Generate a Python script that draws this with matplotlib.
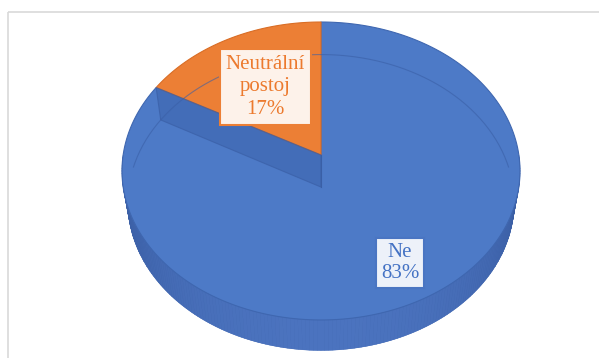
import numpy as np
import matplotlib
matplotlib.use("Agg")
import matplotlib.pyplot as plt
from matplotlib.patches import Polygon, Rectangle
from matplotlib.colors import to_rgb

# Data
categories = ["Neutrální postoj", "Ne"]
values = [17, 83]
pct_labels = ["17%", "83%"]

W, H = 599, 358
fig = plt.figure(figsize=(W / 100, H / 100), dpi=100)
ax = fig.add_axes([0, 0, 1, 1])
ax.set_xlim(0, W)
ax.set_ylim(H, 0)
ax.axis("off")

# Chart area frame
ax.add_patch(Rectangle((8, 12), 700, 400, fill=False, ec="#d9d9d9", lw=1.2))

# Simple pinhole camera looking down on a flat cylinder (radius 1)
elev = np.radians(48.1)
dist = 6.22
focal = 1230.7
depth = 0.25
cx, cy = 321, 155
se, ce = np.sin(elev), np.cos(elev)


def project(phi, r=1.0, z=0.0):
    X = r * np.cos(phi)
    Y = r * np.sin(phi)
    zc = dist + Y * ce - z * se
    yc = Y * se + z * ce
    return cx + focal * X / zc, cy - focal * yc / zc


def wedge(a0, a1, z=0.0, n=200):
    t = np.linspace(a0, a1, n)
    xs, ys = project(t, 1.0, z)
    x0, y0 = project(np.array([0.0]), 0.0, z)
    return np.column_stack([np.r_[x0, xs], np.r_[y0, ys]])


colors = ["#ec7f35", "#4d7ac7"]
edge_cols = ["#d96d25", "#3f67b0"]

# Slice angles: first slice starts at 12 o'clock going counter-clockwise
fr = np.array(values, float) / sum(values)
starts = np.pi / 2 + 2 * np.pi * np.r_[0, np.cumsum(fr)[:-1]]
ends = starts + 2 * np.pi * fr

# Bottom face
tb = np.linspace(0, 2 * np.pi, 400)
bx, by = project(tb, 1.0, -depth)
ax.add_patch(Polygon(np.column_stack([bx, by]), closed=True, fc="#3d61a8", ec="none"))

# Outer side, front half, shaded strips
dark = np.array(to_rgb("#385ba0"))
mid = np.array(to_rgb("#4b73bf"))
phis = np.linspace(np.pi, 2 * np.pi, 181)
for p0, p1 in zip(phis[:-1], phis[1:]):
    pm = 0.5 * (p0 + p1)
    k = max(0.0, -np.sin(pm)) ** 1.2
    col = dark + (mid - dark) * k
    tt = np.linspace(p0, p1, 4)
    xt, yt = project(tt, 1.0, 0.0)
    xb, yb = project(tt[::-1], 1.0, -depth)
    ax.add_patch(Polygon(np.column_stack([np.r_[xt, xb], np.r_[yt, yb]]),
                         closed=True, fc=col, ec=col, lw=0.3))

# Top faces of the slices (blue first, orange on top)
for i in [1, 0]:
    ax.add_patch(Polygon(wedge(starts[i], ends[i]), closed=True,
                         fc=colors[i], ec=edge_cols[i], lw=0.8))

# Radial wall of the large slice, seen through the top
a = ends[0]
ex0, ey0 = project(np.array([a]), 1.0, 0.0)
ex1, ey1 = project(np.array([a]), 1.0, -depth)
vx0, vy0 = project(np.array([0.0]), 0.0, 0.0)
vx1, vy1 = project(np.array([0.0]), 0.0, -depth)
wall = np.array([[vx0[0], vy0[0]], [ex0[0], ey0[0]], [ex1[0], ey1[0]], [vx1[0], vy1[0]]])
ax.add_patch(Polygon(wall, closed=True, fc="#4068b2", ec="#3a5fa6", lw=0.8, alpha=0.7))
ax.plot([vx0[0], vx1[0]], [vy0[0], vy1[0]], color="#3a5fa6", lw=0.8)

# Far rim of the bottom face, faintly visible through the top
tf = np.linspace(np.radians(8), np.radians(172), 200)
fx, fy = project(tf, 1.0, -depth)
ax.plot(fx, fy, color="#3a5fa6", lw=0.8, alpha=0.6)

# Data labels
serif = ["Liberation Serif", "DejaVu Serif"]
ax.text(265.5, 87, f"Neutrální\npostoj\n{pct_labels[0]}", ha="center", va="center",
        fontsize=15, family=serif, color="#ec7a2e", linespacing=1.25,
        bbox=dict(boxstyle="square,pad=0.3", fc="#fdf2ea", ec="#ec7f35", lw=1.5))
ax.text(400, 263, f"Ne\n{pct_labels[1]}", ha="center", va="center",
        fontsize=15, family=serif, color="#4472c4", linespacing=1.15,
        bbox=dict(boxstyle="square,pad=0.25", fc="#edf1f9", ec="#4a75c2", lw=1.5))

fig.savefig("out.png", dpi=100)
